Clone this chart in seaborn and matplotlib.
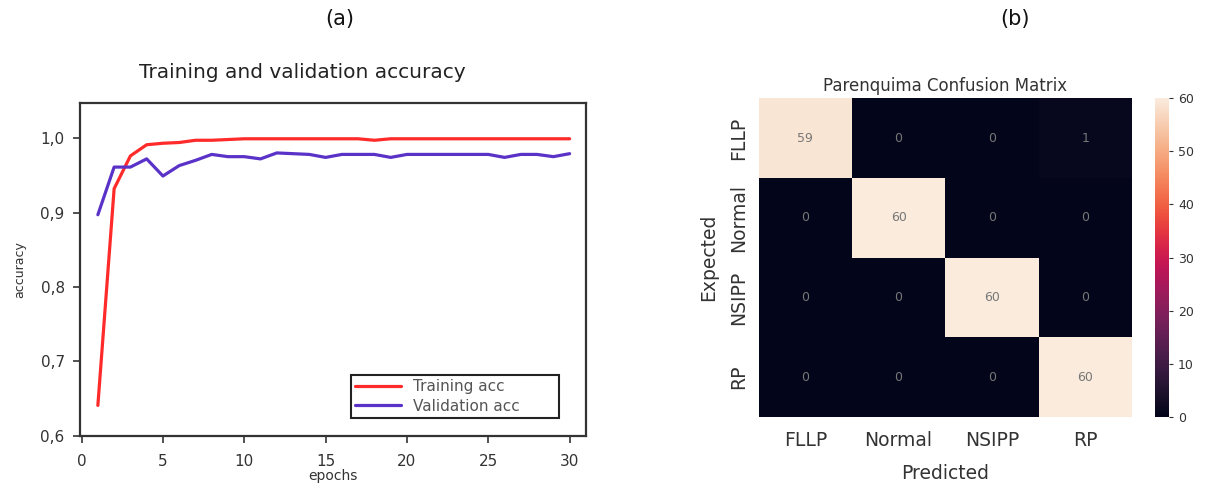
import numpy as np
import pandas as pd
import matplotlib
matplotlib.use("Agg")
import matplotlib.pyplot as plt
import seaborn as sns
from matplotlib.ticker import FuncFormatter

# ---- data ----
epochs = list(range(1, 31))
train_acc = [0.641, 0.932, 0.976, 0.991, 0.993, 0.994, 0.997, 0.997, 0.998, 0.999,
             0.999, 0.999, 0.999, 0.999, 0.999, 0.999, 0.999, 0.997, 0.999, 0.999,
             0.999, 0.999, 0.999, 0.999, 0.999, 0.999, 0.999, 0.999, 0.999, 0.999]
val_acc = [0.897, 0.961, 0.961, 0.972, 0.949, 0.963, 0.970, 0.978, 0.975, 0.975,
           0.972, 0.980, 0.979, 0.978, 0.974, 0.978, 0.978, 0.978, 0.974, 0.978,
           0.978, 0.978, 0.978, 0.978, 0.978, 0.974, 0.978, 0.978, 0.975, 0.979]
classes = ["FLLP", "Normal", "NSIPP", "RP"]
conf = [[59, 0, 0, 1],
        [0, 60, 0, 0],
        [0, 0, 60, 0],
        [0, 0, 0, 60]]

sns.set_style("white")
plt.rcParams['font.family'] = ['DejaVu Sans']

fig = plt.figure(figsize=(12.08, 4.86), dpi=100)

# ---- (a) accuracy curves ----
ax1 = fig.add_axes([0.0662, 0.103, 0.4188, 0.685])
df = pd.DataFrame({"epoch": epochs * 2,
                   "acc": train_acc + val_acc,
                   "series": ["Training acc"] * 30 + ["Validation acc"] * 30})
sns.lineplot(data=df, x="epoch", y="acc", hue="series",
             palette={"Training acc": "#ff2a2a", "Validation acc": "#5a32c8"},
             linewidth=2.3, ax=ax1)
ax1.set_xlim(-0.1, 31.0)
ax1.set_ylim(0.6, 1.047)
ax1.set_xticks([0, 5, 10, 15, 20, 25, 30])
ax1.set_yticks([0.6, 0.7, 0.8, 0.9, 1.0])
ax1.yaxis.set_major_formatter(FuncFormatter(lambda v, p: f"{v:.1f}".replace(".", ",")))
ax1.tick_params(axis="both", labelsize=11, colors="#333333", length=5, width=1.2,
                direction="out", bottom=True, left=True)
ax1.tick_params(axis="x", pad=8)
ax1.tick_params(axis="y", pad=6)
for s in ax1.spines.values():
    s.set_color("#333333")
    s.set_linewidth(1.6)
ax1.set_xlabel("epochs", fontsize=10, color="#333333", labelpad=0)
ax1.set_ylabel("accuracy", fontsize=9, color="#333333", labelpad=10)
ax1.set_title("Training and validation accuracy", fontsize=14.5, color="#222222",
              pad=18, x=0.44)
leg = ax1.legend(loc="lower left", bbox_to_anchor=(0.52, 0.03, 0.441, 0.15),
                 mode="expand", fontsize=11,
                 frameon=True, fancybox=False, framealpha=1, edgecolor="#222222",
                 handlelength=3.0, borderpad=0.3, labelspacing=0.3)
leg.get_frame().set_linewidth(1.5)
for t in leg.get_texts():
    t.set_color("#555555")

# ---- (b) confusion matrix ----
ax2 = fig.add_axes([0.628, 0.142, 0.309, 0.656])
cax = fig.add_axes([0.956, 0.142, 0.0116, 0.656])
cm = pd.DataFrame(conf, index=classes, columns=classes)
sns.heatmap(cm, annot=True, fmt="d", cmap="rocket", vmin=0, vmax=60, ax=ax2,
            cbar_ax=cax, annot_kws={"fontsize": 9, "color": "#777777"})
ax2.set_title("Parenquima Confusion Matrix", fontsize=12, color="#333333", pad=5)
ax2.set_xlabel("Predicted", fontsize=13.5, color="#333333", labelpad=10)
ax2.set_ylabel("Expected", fontsize=13.5, color="#333333", labelpad=8)
ax2.tick_params(axis="both", labelsize=13.5, colors="#333333", length=4)
ax2.tick_params(axis="x", rotation=0, pad=6)
ax2.tick_params(axis="y", rotation=90)
for lab in ax2.get_yticklabels():
    lab.set_va("center")
cax.tick_params(labelsize=9, colors="#333333", length=3)

fig.text(0.281, 0.960, "(a)", fontsize=15, ha="center", va="center", color="#111111")
fig.text(0.840, 0.960, "(b)", fontsize=15, ha="center", va="center", color="#111111")

fig.savefig("out.png", dpi=100)
